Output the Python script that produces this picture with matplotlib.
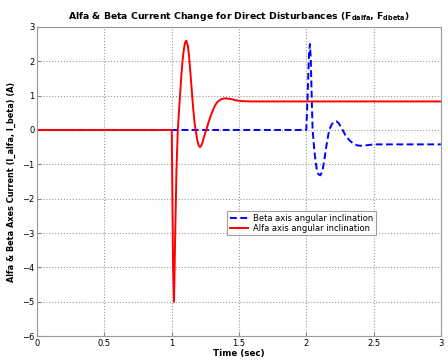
import matplotlib
matplotlib.use("Agg")
import matplotlib.pyplot as plt

# Beta axis current (dashed blue)
t_beta = [0.0, 2.0, 2.01, 2.02, 2.027, 2.033, 2.04, 2.047, 2.06, 2.07, 2.08, 2.09, 2.105,
          2.12, 2.135, 2.15, 2.17, 2.19, 2.21, 2.225, 2.24, 2.255, 2.27, 2.29, 2.32, 2.35,
          2.38, 2.40, 2.44, 2.50, 3.0]
i_beta = [0.0, 0.0, 1.0, 2.2, 2.5, 2.1, 1.0, 0.0, -0.6, -0.95, -1.18, -1.29, -1.32,
          -1.2, -0.85, -0.45, 0.0, 0.17, 0.24, 0.25, 0.2, 0.1, 0.0, -0.15, -0.3, -0.4,
          -0.45, -0.46, -0.45, -0.42, -0.42]

# Alfa axis current (solid red)
t_alfa = [0.0, 1.0, 1.005, 1.01, 1.017, 1.025, 1.035, 1.045, 1.06, 1.07, 1.08, 1.09, 1.10,
          1.108, 1.12, 1.13, 1.14, 1.15, 1.16, 1.17, 1.18, 1.19, 1.20, 1.21, 1.22, 1.23,
          1.24, 1.26, 1.28, 1.30, 1.32, 1.34, 1.37, 1.40, 1.44, 1.48, 1.52, 1.58, 3.0]
i_alfa = [0.0, 0.0, -2.0, -4.0, -5.0, -3.2, -1.2, 0.0, 0.9, 1.5, 2.0, 2.35, 2.55,
          2.6, 2.45, 2.1, 1.6, 1.1, 0.6, 0.2, -0.05, -0.3, -0.45, -0.5, -0.45, -0.35,
          -0.2, 0.05, 0.3, 0.52, 0.7, 0.82, 0.9, 0.92, 0.9, 0.86, 0.84, 0.83, 0.83]

x_ticks = [0, 0.5, 1, 1.5, 2, 2.5, 3]
x_tick_labels = ["0", "0.5", "1", "1.5", "2", "2.5", "3"]
y_ticks = [-6, -5, -4, -3, -2, -1, 0, 1, 2, 3]

plt.rcParams['font.family'] = ['DejaVu Sans']
fig = plt.figure(figsize=(4.48, 3.63), dpi=100)
ax = fig.add_axes([0.083, 0.074, 0.901, 0.852])

ax.plot(t_beta, i_beta, color='#0000ff', linestyle='--', linewidth=1.4, dashes=(3.5, 1.8),
        label='Beta axis angular inclination')
ax.plot(t_alfa, i_alfa, color='#ff0000', linestyle='-', linewidth=1.4,
        label='Alfa axis angular inclination')

ax.set_xlim(0, 3)
ax.set_ylim(-6, 3)
ax.set_xticks(x_ticks)
ax.set_xticklabels(x_tick_labels)
ax.set_yticks(y_ticks)
ax.tick_params(direction='in', labelsize=6, length=3, color='#888888', pad=2)
ax.grid(True, linestyle=':', color='#999999', linewidth=0.8)
for s in ax.spines.values():
    s.set_color('#999999')

ax.set_title(r'Alfa & Beta Current Change for Direct Disturbances (F$_{\mathbf{dalfa}}$, F$_{\mathbf{dbeta}}$)',
             fontsize=6.7, fontweight='bold', pad=6)
ax.set_xlabel('Time (sec)', fontsize=6.3, fontweight='bold', labelpad=1)
ax.set_ylabel('Alfa & Beta Axes Current (I_alfa, I_beta) (A)', fontsize=5.9, fontweight='bold', labelpad=4)

leg = ax.legend(loc='center', bbox_to_anchor=(0.655, 0.365), fontsize=6, frameon=True,
                fancybox=False, edgecolor='#888888', handlelength=2.2, borderpad=0.3,
                labelspacing=0.1, handletextpad=0.6)
leg.get_frame().set_linewidth(0.8)

fig.savefig('out.png', dpi=100)
